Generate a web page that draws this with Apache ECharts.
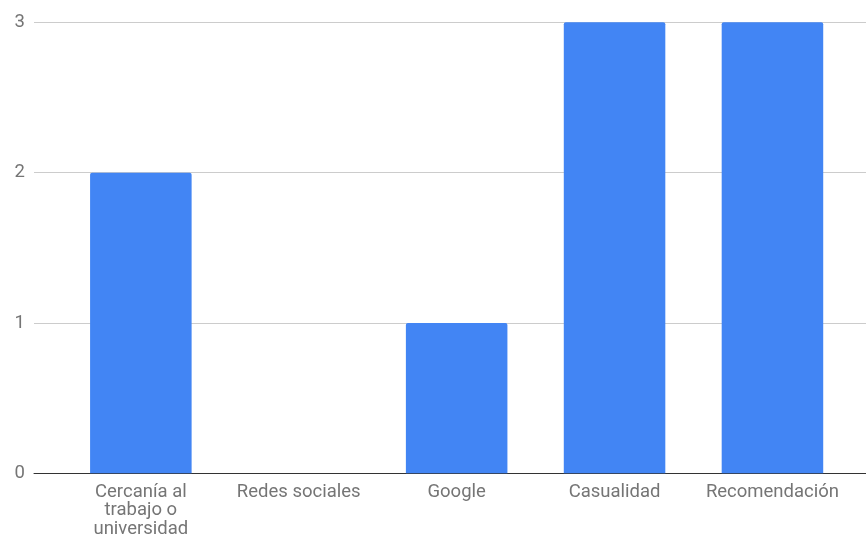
<!DOCTYPE html>
<html>
<head>
<meta charset="utf-8">
<script src="https://cdn.jsdelivr.net/npm/echarts@6/dist/echarts.min.js"></script>
<style>
html,body{margin:0;padding:0;background:#fff;}
#chart{width:866px;height:539px;}
</style>
</head>
<body>
<div id="chart"></div>
<script>
const categories = ["Cercanía al\ntrabajo o\nuniversidad", "Redes sociales", "Google", "Casualidad", "Recomendación"];
const values = [2, 0, 1, 3, 3];
const yTicks = [0, 1, 2, 3];

const chart = echarts.init(document.getElementById('chart'), null, {renderer: 'canvas'});
const font = 'Roboto, "Noto Sans", Arial, sans-serif';
chart.setOption({
  animation: false,
  grid: [
    {left: 34, right: 0, top: 22.3, bottom: 65.7},
    {left: 61.9, right: 14.6, top: 22.3, bottom: 65.7}
  ],
  xAxis: [
    {gridIndex: 0, type: 'value', min: 0, max: 1,
     axisLine: {show: true, lineStyle: {color: '#333', width: 1}},
     axisTick: {show: false}, axisLabel: {show: false}, splitLine: {show: false}},
    {gridIndex: 1, type: 'category', data: categories,
     axisLine: {show: false}, axisTick: {show: false},
     axisLabel: {color: '#757575', fontFamily: font, fontSize: 18.5, lineHeight: 18.5, margin: 9.5, interval: 0}}
  ],
  yAxis: [
    {gridIndex: 0, type: 'value', min: yTicks[0], max: yTicks[yTicks.length - 1], interval: 1,
     axisLine: {show: false}, axisTick: {show: false},
     axisLabel: {color: '#757575', fontFamily: font, fontSize: 18.5, margin: 9},
     splitLine: {lineStyle: {color: '#cccccc', width: 1}}},
    {gridIndex: 1, type: 'value', min: yTicks[0], max: yTicks[yTicks.length - 1], interval: 1,
     show: false, splitLine: {show: false}}
  ],
  series: [{
    type: 'bar', xAxisIndex: 1, yAxisIndex: 1,
    data: values, barCategoryGap: '35.7%',
    itemStyle: {color: '#4285F4', borderRadius: [2, 2, 0, 0]}
  }]
});
</script>
</body>
</html>
